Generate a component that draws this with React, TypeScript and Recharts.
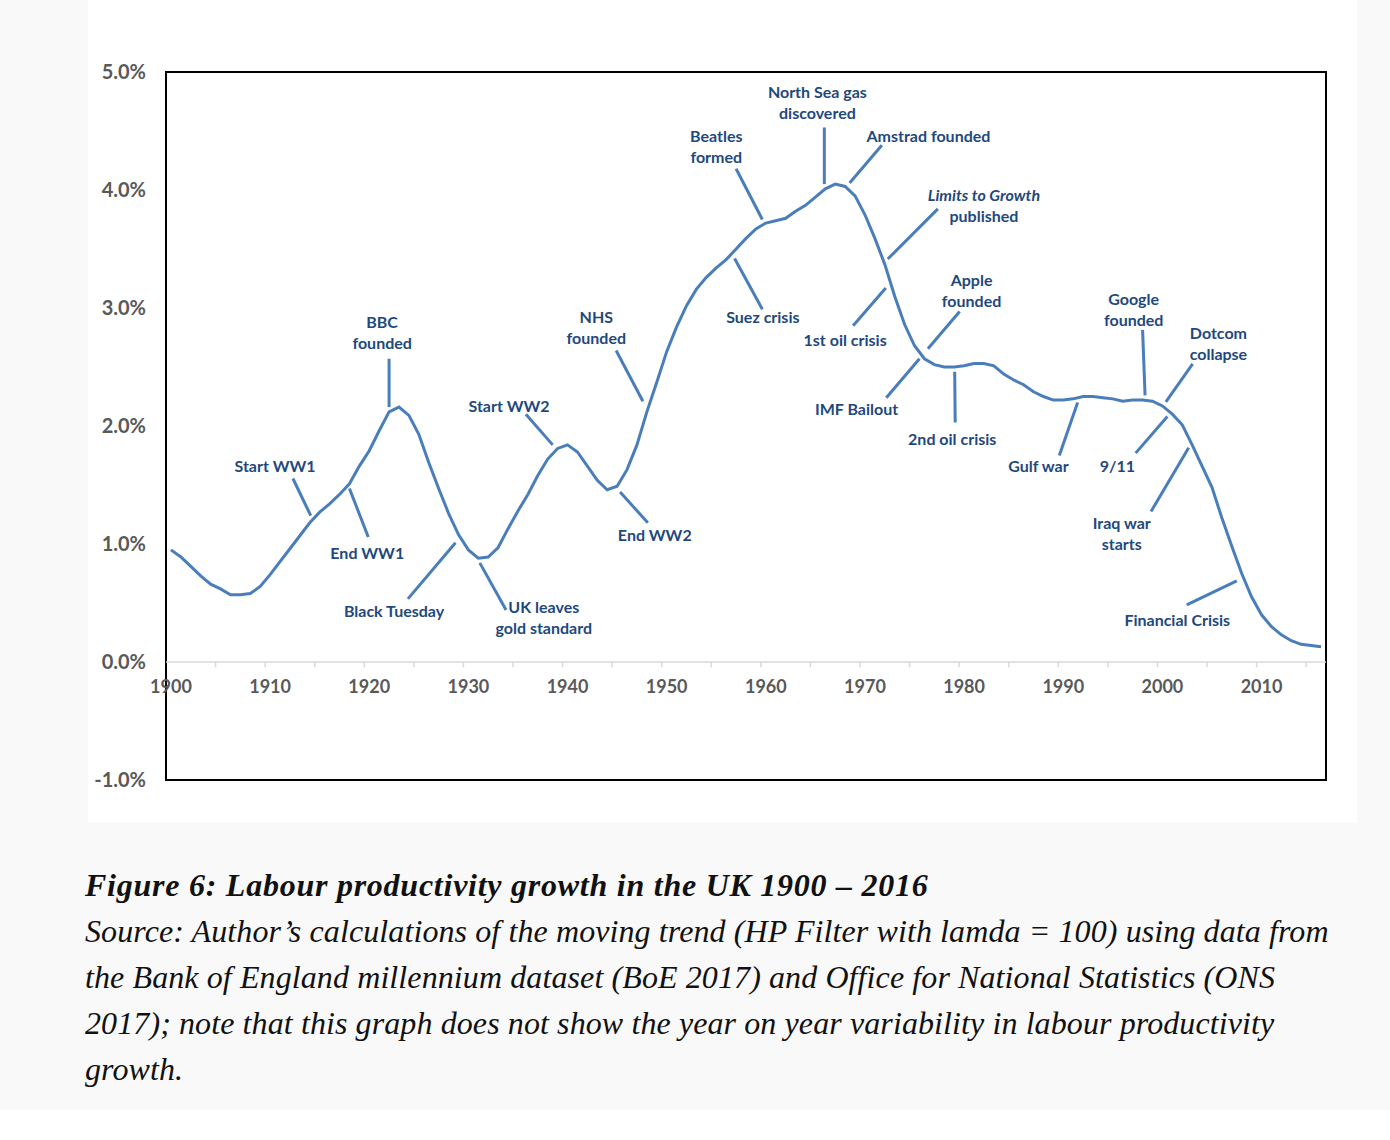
import {
  LineChart,
  Line,
  XAxis,
  YAxis,
  ReferenceLine,
  ReferenceDot,
  ReferenceArea,
} from "recharts";

// HP-filtered trend of UK labour productivity growth, % per year, 1900-2016
const productivity = [
  0.95, 0.89, 0.81, 0.73, 0.66, 0.62, 0.57, 0.57, 0.58, 0.64,
  0.74, 0.85, 0.96, 1.07, 1.18, 1.27, 1.34, 1.42, 1.51, 1.66,
  1.79, 1.96, 2.12, 2.16, 2.09, 1.93, 1.69, 1.47, 1.26, 1.08,
  0.95, 0.88, 0.89, 0.97, 1.13, 1.28, 1.42, 1.58, 1.72, 1.81,
  1.84, 1.78, 1.66, 1.54, 1.46, 1.49, 1.63, 1.84, 2.12, 2.37,
  2.63, 2.84, 3.02, 3.16, 3.26, 3.34, 3.41, 3.5, 3.59, 3.67,
  3.72, 3.74, 3.76, 3.82, 3.87, 3.94, 4.01, 4.05, 4.03, 3.95,
  3.79, 3.59, 3.37, 3.1, 2.86, 2.68, 2.57, 2.52, 2.5, 2.5,
  2.51, 2.53, 2.53, 2.51, 2.44, 2.39, 2.35, 2.29, 2.25, 2.22,
  2.22, 2.23, 2.25, 2.25, 2.24, 2.23, 2.21, 2.22, 2.22, 2.21,
  2.17, 2.1, 2.01, 1.84, 1.66, 1.48, 1.22, 0.98, 0.75, 0.55,
  0.4, 0.3, 0.23, 0.18, 0.15, 0.14, 0.13,
];
const firstYear = 1900;
const years = productivity.map((_, i) => firstYear + i);

const yTicks = [-1, 0, 1, 2, 3, 4, 5];
const decadeLabels = [1900, 1910, 1920, 1930, 1940, 1950, 1960, 1970, 1980, 1990, 2000, 2010];
const minorTicks = [
  1904.5, 1909.5, 1914.5, 1919.5, 1924.5, 1929.5, 1934.5, 1939.5, 1944.5, 1949.5, 1954.5, 1959.5,
  1964.5, 1969.5, 1974.5, 1979.5, 1984.5, 1989.5, 1994.5, 1999.5, 2004.5, 2009.5, 2014.5,
];

// events: label lines, label centre, leader line from/to (year, %)
type Event = {
  lines: string[];
  italicLine?: number;
  at: [number, number];
  from: [number, number];
  to: [number, number];
};

const events: Event[] = [
  { lines: ["BBC", "founded"], at: [1921.3, 2.88], from: [1922.0, 2.57], to: [1922.0, 2.16] },
  { lines: ["Start WW1"], at: [1910.5, 1.665], from: [1912.3, 1.555], to: [1914.1, 1.24] },
  { lines: ["End WW1"], at: [1919.8, 0.92], from: [1918.0, 1.47], to: [1919.9, 1.06] },
  { lines: ["Black Tuesday"], at: [1922.5, 0.43], from: [1923.9, 0.535], to: [1928.7, 1.01] },
  { lines: ["UK leaves", "gold standard"], at: [1937.6, 0.47], from: [1931.15, 0.84], to: [1933.8, 0.44] },
  { lines: ["Start WW2"], at: [1934.1, 2.17], from: [1935.8, 2.1], to: [1938.5, 1.84] },
  { lines: ["NHS", "founded"], at: [1942.9, 2.925], from: [1944.9, 2.64], to: [1947.6, 2.21] },
  { lines: ["End WW2"], at: [1948.8, 1.08], from: [1945.3, 1.44], to: [1948.1, 1.18] },
  { lines: ["Beatles", "formed"], at: [1955.0, 4.455], from: [1957.0, 4.18], to: [1959.65, 3.75] },
  { lines: ["North Sea gas", "discovered"], at: [1965.2, 4.83], from: [1965.9, 4.53], to: [1965.9, 4.05] },
  { lines: ["Amstrad founded"], at: [1976.4, 4.455], from: [1971.7, 4.38], to: [1968.45, 4.06] },
  { lines: ["Limits to Growth", "published"], italicLine: 0, at: [1982.0, 3.956], from: [1977.35, 3.84], to: [1972.3, 3.415] },
  { lines: ["Suez crisis"], at: [1959.7, 2.925], from: [1956.85, 3.42], to: [1959.65, 2.99] },
  { lines: ["1st oil crisis"], at: [1968.0, 2.73], from: [1972.1, 3.17], to: [1968.8, 2.85] },
  { lines: ["IMF Bailout"], at: [1969.15, 2.147], from: [1975.5, 2.57], to: [1972.15, 2.24] },
  { lines: ["Apple", "founded"], at: [1980.75, 3.238], from: [1979.55, 2.97], to: [1976.35, 2.655] },
  { lines: ["2nd oil crisis"], at: [1978.8, 1.893], from: [1979.05, 2.46], to: [1979.1, 2.03] },
  { lines: ["Gulf war"], at: [1987.5, 1.665], from: [1991.45, 2.2], to: [1989.6, 1.75] },
  { lines: ["Google", "founded"], at: [1997.1, 3.077], from: [1998.0, 2.815], to: [1998.25, 2.26] },
  { lines: ["Dotcom", "collapse"], at: [2005.65, 2.79], from: [2003.05, 2.527], to: [2000.35, 2.205] },
  { lines: ["9/11"], at: [1995.45, 1.665], from: [2000.5, 2.08], to: [1997.3, 1.77] },
  { lines: ["Iraq war", "starts"], at: [1995.9, 1.175], from: [2002.65, 1.815], to: [1998.85, 1.275] },
  { lines: ["Financial Crisis"], at: [2001.5, 0.355], from: [2007.5, 0.687], to: [2002.45, 0.484] },
];

const data = years.map((year, i) => ({ year, value: productivity[i] }));

const lineBlue = "#4a7ebb";
const textBlue = "#1f497d";
const axisGrey = "#595959";
const font = "Lato, 'Open Sans', sans-serif";

const EventText = ({ cx, cy, lines, italicLine }: any) => (
  <text
    x={cx}
    y={cy}
    textAnchor="middle"
    fill={textBlue}
    fontSize={16}
    fontWeight={700}
    fontFamily={font}
  >
    {lines.map((l: string, i: number) => (
      <tspan key={i} x={cx} dy={i === 0 ? 6 : 21} fontStyle={i === italicLine ? "italic" : "normal"}>
        {l}
      </tspan>
    ))}
  </text>
);

const captionTitle = "Figure 6: Labour productivity growth in the UK 1900 \u2013 2016";
const captionLines = [
  "Source: Author\u2019s calculations of the moving trend (HP Filter with lamda = 100) using data from",
  "the Bank of England millennium dataset (BoE 2017) and Office for National Statistics (ONS",
  "2017); note that this graph does not show the year on year variability in labour productivity",
  "growth.",
];

export default function App() {
  return (
    <div style={{ position: "absolute", left: 0, top: 0, width: 1390, height: 1140, background: "#fff" }}>
      <div style={{ position: "absolute", left: 0, top: 0, width: 1390, height: 1110, background: "#f9f9f9" }} />
      <div style={{ position: "absolute", left: 88, top: 0, width: 1269, height: 823, background: "#fff" }}>
        <LineChart width={1269} height={823} data={data} margin={{ top: 72, right: 31, bottom: 43, left: 18 }}>
          <XAxis dataKey="year" type="number" domain={[1899.5, 2016.5]} hide />
          <YAxis
            type="number"
            domain={[-1, 5]}
            ticks={yTicks}
            width={60}
            axisLine={false}
            tickLine={false}
            tickSize={0}
            tickMargin={20}
            tickFormatter={(v: number) => `${v.toFixed(1)}%`}
            tick={{ fill: axisGrey, fontSize: 20, fontWeight: 700, fontFamily: font }}
          />
          <ReferenceLine y={0} stroke="#d9d9d9" strokeWidth={1.5} />
          {minorTicks.map((t) => (
            <ReferenceLine
              key={t}
              segment={[{ x: t, y: 0 }, { x: t, y: -0.045 }]}
              stroke="#d9d9d9"
              strokeWidth={1.5}
            />
          ))}
          {decadeLabels.map((d) => (
            <ReferenceDot
              key={d}
              x={d}
              y={0}
              r={0}
              shape={(p: any) => (
                <text
                  x={p.cx}
                  y={p.cy + 31}
                  textAnchor="middle"
                  fill={axisGrey}
                  fontSize={18}
                  fontWeight={700}
                  fontFamily={font}
                >
                  {d}
                </text>
              )}
            />
          ))}
          <ReferenceArea
            x1={1899.5}
            x2={2016.5}
            y1={-1}
            y2={5}
            fill="none"
            stroke="#000"
            strokeWidth={2}
            ifOverflow="visible"
          />
          {events.map((e, i) => (
            <ReferenceLine
              key={`l${i}`}
              segment={[{ x: e.from[0], y: e.from[1] }, { x: e.to[0], y: e.to[1] }]}
              stroke={lineBlue}
              strokeWidth={3}
            />
          ))}
          {events.map((e, i) => (
            <ReferenceDot
              key={`t${i}`}
              x={e.at[0]}
              y={e.at[1]}
              r={0}
              shape={(p: any) => <EventText cx={p.cx} cy={p.cy} lines={e.lines} italicLine={e.italicLine} />}
            />
          ))}
          <Line
            type="linear"
            dataKey="value"
            stroke={lineBlue}
            strokeWidth={3}
            dot={false}
            isAnimationActive={false}
          />
        </LineChart>
      </div>
      <div
        style={{
          position: "absolute",
          left: 85,
          top: 862,
          fontFamily: "'Liberation Serif', serif",
          fontStyle: "italic",
          fontSize: 32,
          letterSpacing: 0.1,
          color: "#111",
          lineHeight: "46px",
          whiteSpace: "nowrap",
        }}
      >
        <div style={{ fontWeight: 700, letterSpacing: 0.75 }}>{captionTitle}</div>
        {captionLines.map((c, i) => (
          <div key={i}>{c}</div>
        ))}
      </div>
    </div>
  );
}
